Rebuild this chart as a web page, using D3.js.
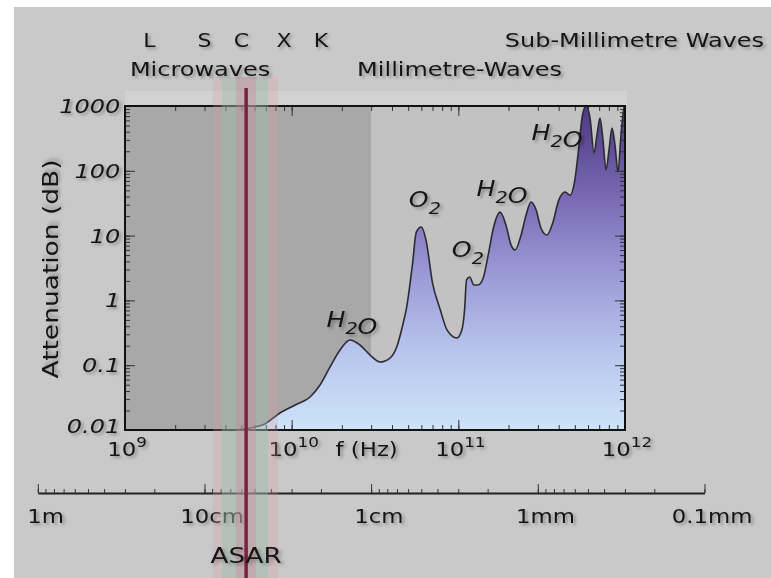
<!DOCTYPE html>
<html>
<head>
<meta charset="utf-8">
<script src="https://cdn.jsdelivr.net/npm/d3@7"></script>
<style>
  html, body { margin: 0; padding: 0; background: #fff; }
  svg text { font-family: "DejaVu Sans", sans-serif; fill: #151515; }
  .lbl { filter: drop-shadow(2px 2px 1.5px rgba(0,0,0,0.3)); }
</style>
</head>
<body>
<svg id="chart" width="771" height="578"></svg>
<script>
// atmospheric attenuation curve, frequency in GHz, attenuation in dB
const freqGHz = [3.0, 4.57, 5.62, 6.9, 8.5, 10.5, 12.9, 14.8, 17.0, 19.5, 22.4, 25.7, 29.5, 33.9, 38.9,
  42.7, 46.4, 49.0, 53, 56, 60, 64, 70, 78, 85.5, 98, 105, 109, 112, 117, 124, 131, 141, 151, 164,
  178, 193, 207, 219, 238, 255, 273, 293, 313, 340, 370, 400, 437, 468, 500, 530, 552, 583, 617,
  652, 679, 708, 738, 769, 802, 836, 871, 908, 946, 986, 1000];
const attenDb = [0.006, 0.0099, 0.0107, 0.0124, 0.0183, 0.0243, 0.0323, 0.0494, 0.094, 0.172, 0.245, 0.205, 0.144, 0.112, 0.129,
  0.191, 0.417, 0.79, 3.5, 11.4, 13.6, 8.5, 1.86, 0.71, 0.35, 0.263, 0.35, 0.71, 2.07, 2.3, 1.73, 1.73, 2.22, 5.0, 14.6,
  23, 14.6, 7.2, 6.0, 10.2, 20.8, 33, 24.8, 13.1, 10.2, 16.2, 35, 47, 42, 72, 250, 650, 1000, 650,
  188, 357, 650, 298, 103, 210, 457, 250, 96, 357, 930, 1000];

const yTicks = [0.01, 0.1, 1, 10, 100, 1000];
const yTickLabels = ["0.01", "0.1", "1", "10", "100", "1000"];
const xTickExp = [9, 10, 11, 12];
const wavelengthTicks = [1, 0.1, 0.01, 0.001, 0.0001]; // metres
const wavelengthLabels = ["1m", "10cm", "1cm", "1mm", "0.1mm"];

const bandNames = ["L", "S", "C", "X", "K"];
const bandGHz = [1.4, 3.0, 5.0, 9.0, 15.0];

const regionNames = ["Microwaves", "Millimetre-Waves", "Sub-Millimetre Waves"];
const regionStartGHz = [1.07, 24.7, 190];

// absorption line labels
const lineNames = ["H2O", "O2", "O2", "H2O", "H2O"];
const lineGHz = [23, 63, 114, 183, 391];
const lineDb = [0.5, 35, 6.0, 52, 383];

// plot background split (microwave / mm-wave)
const zoneEdgesGHz = [1, 30, 1000];

// ASAR C-band
const asarGHz = 5.331;
const asarBandsGHz = [[3.37, 8.28], [3.82, 7.21], [4.64, 6.11]];

const C = 2.998e8;
const W = 771, H = 578;
const SX = 1.2; // the original lettering is wide, stretch glyphs a bit
const svg = d3.select("#chart");

svg.append("rect").attr("x", 14).attr("y", 7).attr("width", W - 14).attr("height", H - 7).attr("fill", "#c9c9c9");

const x = d3.scaleLog().domain([1e9, 1e12]).range([125, 625]);
const y = d3.scaleLog().domain([0.01, 1000]).range([430, 106]);
const lam = d3.scaleLog().domain([1, 1e-4]).range([x(C / 1), x(C / 1e-4)]);

const [x0, x1] = x.range();
const [yb, yt] = y.range();

// helper: put a text at (px,py) with widened glyphs
function wide(sel, px, py, sx) {
  return sel.attr("x", 0).attr("y", 0)
    .attr("transform", (d, i) => `translate(${px(d, i)},${py(d, i)}) scale(${sx || SX},1)`);
}

// light strip above the frame
svg.append("rect").attr("x", x0).attr("y", yt - 15).attr("width", x1 - x0 + 2).attr("height", 14).attr("fill", "#d2d2d2");

// plot background zones
const zoneColors = ["#a8a8a8", "#c2c2c2"];
svg.selectAll("rect.zone")
  .data(d3.pairs(zoneEdgesGHz))
  .enter().append("rect")
  .attr("class", "zone")
  .attr("x", d => x(d[0] * 1e9))
  .attr("y", yt)
  .attr("width", d => x(d[1] * 1e9) - x(d[0] * 1e9))
  .attr("height", yb - yt)
  .attr("fill", (d, i) => zoneColors[i]);

// gradient fill
const defs = svg.append("defs");
const grad = defs.append("linearGradient").attr("id", "fillGrad")
  .attr("gradientUnits", "userSpaceOnUse")
  .attr("x1", 0).attr("x2", 0).attr("y1", yb).attr("y2", yt);
[["0", "#cde4f8"], ["0.25", "#b7c4ec"], ["0.5", "#9896d4"], ["0.75", "#7463ae"], ["1", "#4b3a80"]]
  .forEach(s => grad.append("stop").attr("offset", s[0]).attr("stop-color", s[1]));

defs.append("clipPath").attr("id", "plotClip")
  .append("rect").attr("x", x0).attr("y", yt).attr("width", x1 - x0).attr("height", yb - yt);

const data = freqGHz.map((f, i) => ({ f: f * 1e9, a: attenDb[i] }));

const area = d3.area()
  .x(d => x(d.f))
  .y0(yb)
  .y1(d => y(d.a))
  .curve(d3.curveMonotoneX);
const line = d3.line()
  .x(d => x(d.f))
  .y(d => y(d.a))
  .curve(d3.curveMonotoneX);

const plot = svg.append("g").attr("clip-path", "url(#plotClip)");
plot.append("path").datum(data).attr("d", area).attr("fill", "url(#fillGrad)");
plot.append("path").datum(data).attr("d", line).attr("fill", "none").attr("stroke", "#2b2b36").attr("stroke-width", 1.6);

// axes with inward ticks
function styleAxis(g) {
  g.select(".domain").remove();
  g.selectAll(".tick line").attr("stroke", "#333").attr("stroke-width", 1);
}
const xMinor = x.ticks(), yMinor = y.ticks();
const xMajor = xTickExp.map(e => Math.pow(10, e));

svg.append("g").attr("transform", `translate(0,${yb})`)
  .call(d3.axisBottom(x).tickValues(xMinor).tickSize(-5).tickFormat("")).call(styleAxis);
svg.append("g").attr("transform", `translate(0,${yb})`)
  .call(d3.axisBottom(x).tickValues(xMajor).tickSize(-10).tickFormat("")).call(styleAxis);
svg.append("g").attr("transform", `translate(0,${yt})`)
  .call(d3.axisTop(x).tickValues(xMinor).tickSize(-5).tickFormat("")).call(styleAxis);
svg.append("g").attr("transform", `translate(0,${yt})`)
  .call(d3.axisTop(x).tickValues(xMajor).tickSize(-10).tickFormat("")).call(styleAxis);
svg.append("g").attr("transform", `translate(${x1},0)`)
  .call(d3.axisRight(y).tickValues(yMinor).tickSize(-5).tickFormat("")).call(styleAxis);
svg.append("g").attr("transform", `translate(${x1},0)`)
  .call(d3.axisRight(y).tickValues(yTicks).tickSize(-10).tickFormat("")).call(styleAxis);
svg.append("g").attr("transform", `translate(${x0},0)`)
  .call(d3.axisLeft(y).tickValues(yMinor).tickSize(-5).tickFormat("")).call(styleAxis);

const yAxis = svg.append("g").attr("transform", `translate(${x0},0)`)
  .call(d3.axisLeft(y).tickValues(yTicks).tickSize(-10).tickPadding(4)
    .tickFormat((d, i) => yTickLabels[i]))
  .call(styleAxis);
yAxis.attr("font-family", null).attr("font-size", null);
yAxis.selectAll("text").attr("class", "lbl").attr("font-size", 20).attr("font-style", "italic")
  .attr("transform", `scale(${SX},1)`).attr("fill", "#151515");
yAxis.selectAll(".tick").filter(d => d === yTicks[0]).select("text").attr("dy", "0.1em");

// frame
svg.append("rect").attr("x", x0).attr("y", yt).attr("width", x1 - x0).attr("height", yb - yt)
  .attr("fill", "none").attr("stroke", "#111").attr("stroke-width", 2);

// frequency tick labels 10^n
const xl = svg.selectAll("text.xl").data(xTickExp).enter().append("text")
  .attr("class", "lbl")
  .attr("text-anchor", "middle")
  .attr("font-size", 19);
wide(xl, d => x(Math.pow(10, d)) + 2, () => yb + 26);
xl.append("tspan").text("10");
xl.append("tspan").attr("dy", -9).attr("font-size", 14).text(d => d);

wide(svg.append("text").attr("class", "lbl")
  .attr("text-anchor", "middle").attr("font-size", 19)
  .text("f (Hz)"), () => x(Math.pow(10, 10.45)), () => yb + 26);

// y axis title
svg.append("text").attr("class", "lbl")
  .attr("transform", `translate(58,${(yt + yb) / 2 + 1}) rotate(-90) scale(1.26,1)`)
  .attr("text-anchor", "middle").attr("font-size", 21)
  .text("Attenuation (dB)");

// wavelength axis
const lamY = 493;
const lamMinor = svg.append("g").attr("transform", `translate(0,${lamY})`)
  .call(d3.axisBottom(lam).tickValues(lam.ticks()).tickSize(-4).tickSizeOuter(0).tickFormat(""));
lamMinor.select(".domain").attr("stroke", "#222").attr("stroke-width", 2);
lamMinor.selectAll(".tick line").attr("stroke", "#333");

const lamMajor = svg.append("g").attr("transform", `translate(0,${lamY})`)
  .call(d3.axisBottom(lam).tickValues(wavelengthTicks).tickSize(-9).tickPadding(17)
    .tickFormat((d, i) => wavelengthLabels[i]));
lamMajor.select(".domain").remove();
lamMajor.attr("font-family", null).attr("font-size", null);
lamMajor.selectAll(".tick line").attr("stroke", "#333");
lamMajor.selectAll("text").attr("class", "lbl").attr("font-size", 19)
  .attr("dx", 6).attr("transform", `scale(${SX},1)`).attr("fill", "#151515");

// band letters and region names
wide(svg.selectAll("text.band").data(bandNames).enter().append("text")
  .attr("class", "lbl")
  .attr("text-anchor", "middle")
  .attr("font-size", 20)
  .text(d => d), (d, i) => x(bandGHz[i] * 1e9), () => 47, 1.1);

const regionRow = [76, 76, 47];
wide(svg.selectAll("text.region").data(regionNames).enter().append("text")
  .attr("class", "lbl")
  .attr("font-size", 20)
  .text(d => d), (d, i) => x(regionStartGHz[i] * 1e9), (d, i) => regionRow[i]);

// absorption line labels with subscripts
const ll = svg.selectAll("text.line").data(lineNames).enter().append("text")
  .attr("class", "lbl")
  .attr("text-anchor", "middle")
  .attr("font-size", 21)
  .attr("font-style", "italic");
wide(ll, (d, i) => x(lineGHz[i] * 1e9), (d, i) => y(lineDb[i]) + 7);
ll.each(function (d) {
  const t = d3.select(this);
  const parts = d.match(/[A-Z]+|\d/g);
  parts.forEach(p => {
    if (/\d/.test(p)) {
      t.append("tspan").attr("font-size", 16).attr("dy", 7).text(p);
      t.append("tspan").attr("dy", -7).text("");
    } else {
      t.append("tspan").text(p);
    }
  });
});

// ASAR band and line
const bandTop = 77;
const asarColors = ["rgba(225,150,165,0.25)", "rgba(130,200,180,0.33)", "rgba(215,120,145,0.3)"];
svg.selectAll("rect.asar").data(asarBandsGHz).enter().append("rect")
  .attr("x", d => x(d[0] * 1e9))
  .attr("y", bandTop)
  .attr("width", d => x(d[1] * 1e9) - x(d[0] * 1e9))
  .attr("height", H - bandTop)
  .attr("fill", (d, i) => asarColors[i]);
svg.append("line")
  .attr("x1", x(asarGHz * 1e9)).attr("x2", x(asarGHz * 1e9))
  .attr("y1", 88).attr("y2", H)
  .attr("stroke", "#7d2142").attr("stroke-width", 3.5);

wide(svg.append("text").attr("class", "lbl")
  .attr("text-anchor", "middle").attr("font-size", 21)
  .text("ASAR"), () => x(asarGHz * 1e9), () => 563, 1.25);
</script>
</body>
</html>
